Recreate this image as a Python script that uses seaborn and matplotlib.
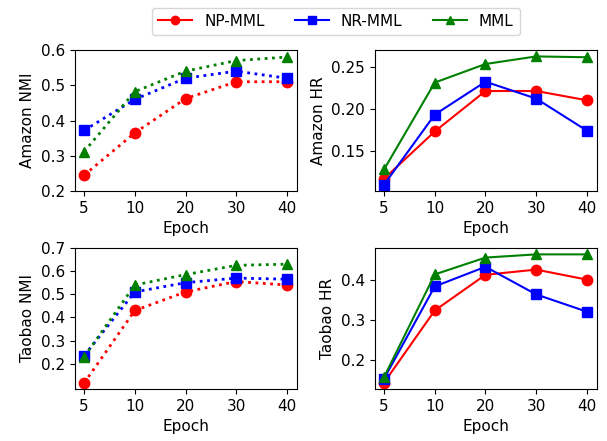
import matplotlib
matplotlib.use("Agg")
import matplotlib.pyplot as plt
import seaborn as sns
import pandas as pd

epochs = ["5", "10", "20", "30", "40"]
methods = ["NP-MML", "NR-MML", "MML"]

amazon_nmi_np = [0.245, 0.365, 0.462, 0.510, 0.510]
amazon_nmi_nr = [0.372, 0.460, 0.520, 0.540, 0.520]
amazon_nmi_mml = [0.312, 0.482, 0.540, 0.570, 0.580]

amazon_hr_np = [0.117, 0.173, 0.221, 0.221, 0.210]
amazon_hr_nr = [0.110, 0.193, 0.232, 0.212, 0.174]
amazon_hr_mml = [0.128, 0.231, 0.253, 0.262, 0.261]

taobao_nmi_np = [0.117, 0.430, 0.510, 0.555, 0.540]
taobao_nmi_nr = [0.235, 0.510, 0.550, 0.570, 0.565]
taobao_nmi_mml = [0.230, 0.540, 0.585, 0.625, 0.630]

taobao_hr_np = [0.143, 0.323, 0.412, 0.425, 0.400]
taobao_hr_nr = [0.153, 0.383, 0.432, 0.363, 0.320]
taobao_hr_mml = [0.157, 0.413, 0.455, 0.463, 0.463]

colors = {"NP-MML": "red", "NR-MML": "blue", "MML": "green"}
markers = {"NP-MML": "o", "NR-MML": "s", "MML": "^"}

fig, axes = plt.subplots(2, 2, figsize=(6.07, 4.41), dpi=100)
fig.subplots_adjust(left=0.1236, right=0.9835, top=0.8866, bottom=0.118,
                    wspace=0.351, hspace=0.404)

panels = [
    (axes[0, 0], "Amazon NMI", [amazon_nmi_np, amazon_nmi_nr, amazon_nmi_mml], ":"),
    (axes[0, 1], "Amazon HR", [amazon_hr_np, amazon_hr_nr, amazon_hr_mml], "-"),
    (axes[1, 0], "Taobao NMI", [taobao_nmi_np, taobao_nmi_nr, taobao_nmi_mml], ":"),
    (axes[1, 1], "Taobao HR", [taobao_hr_np, taobao_hr_nr, taobao_hr_mml], "-"),
]

for ax, ylabel, series, ls in panels:
    for m, vals in zip(methods, series):
        df = pd.DataFrame({"Epoch": epochs, "val": vals})
        sns.lineplot(data=df, x="Epoch", y="val", ax=ax, color=colors[m],
                     marker=markers[m], markersize=7.5, markeredgecolor=colors[m],
                     markeredgewidth=1, linestyle=ls,
                     linewidth=2 if ls == ":" else 1.5, label=m, legend=False)
    ax.set_xlabel("Epoch", fontsize=11)
    ax.set_ylabel(ylabel, fontsize=11)
    ax.tick_params(labelsize=11)
    ax.set_xlim(-0.18, 4.2)

axes[0, 0].set_yticks([0.2, 0.3, 0.4, 0.5, 0.6])
axes[0, 0].set_ylim(0.2, 0.6)
axes[1, 0].set_yticks([0.2, 0.3, 0.4, 0.5, 0.6, 0.7])
axes[1, 0].set_ylim(0.091, 0.7)

handles, labels = axes[0, 1].get_legend_handles_labels()
leg = fig.legend(handles, labels, loc="upper center", ncol=3,
                 bbox_to_anchor=(0.5535, 1.0),
                 fontsize=11, columnspacing=2.0, handlelength=2.2,
                 handletextpad=0.8, fancybox=True)
for ln in leg.get_lines():
    ln.set_markersize(6)

fig.savefig("out.png", dpi=100)
